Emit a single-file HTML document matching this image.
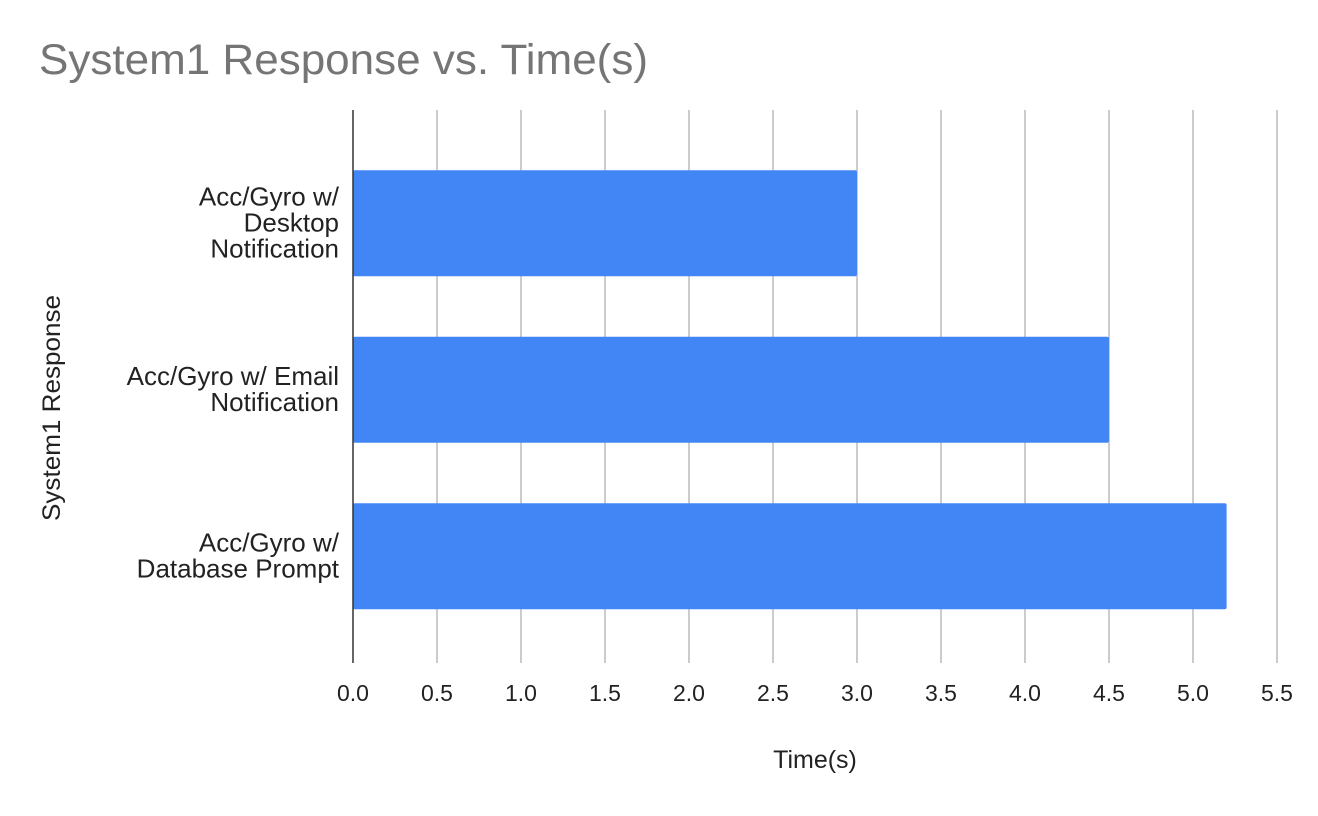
<!DOCTYPE html>
<html><head><meta charset="utf-8"><style>
body{margin:0;background:#fff;}
svg text{font-family:"Liberation Sans",Arial,sans-serif;}
</style></head><body>
<svg id="chart" width="1318" height="811" xmlns="http://www.w3.org/2000/svg">
<rect width="1318" height="811" fill="#fff"/>
<text x="39" y="74" font-size="43" fill="#757575" textLength="609" lengthAdjust="spacingAndGlyphs">System1 Response vs. Time(s)</text>
<g id="grid"></g><g id="bars"></g><g id="ylabels"></g><g id="xticks"></g>
<line x1="353" y1="110" x2="353" y2="663" stroke="#333" stroke-width="1.5"/>
<text x="815" y="768" font-size="25" text-anchor="middle" fill="#222">Time(s)</text>
<text transform="translate(60,408) rotate(-90)" font-size="25" text-anchor="middle" fill="#222" textLength="226" lengthAdjust="spacingAndGlyphs">System1 Response</text>
</svg>
<script>
const categories=[["Acc/Gyro w/","Desktop","Notification"],["Acc/Gyro w/ Email","Notification"],["Acc/Gyro w/","Database Prompt"]];
const values=[3.0,4.5,5.2];
const ticks=[0,0.5,1,1.5,2,2.5,3,3.5,4,4.5,5,5.5];
const NS="http://www.w3.org/2000/svg";
const x0=353,x1=1277,xmax=5.5,bandTop=140,bandH=166.5,barH=106;
const X=v=>x0+(v/xmax)*(x1-x0);
const Y=i=>bandTop+i*bandH+bandH/2;
function mk(t,a,p){const e=document.createElementNS(NS,t);for(const k in a)e.setAttribute(k,a[k]);p.appendChild(e);return e;}
const grid=document.getElementById('grid'),xt=document.getElementById('xticks');
ticks.forEach(t=>{
 if(t>0){const l=mk('line',{x1:X(t),x2:X(t),y1:110,y2:663,stroke:'#ccc','stroke-width':2},grid);
 
 }
 const tx=mk('text',{x:X(t),y:701,'font-size':23,'text-anchor':'middle',fill:'#222'},xt);
 tx.textContent=t.toFixed(1);
 
 
});
const bars=document.getElementById('bars'),yl=document.getElementById('ylabels');
values.forEach((v,i)=>{
 const r=mk('rect',{x:x0,y:Y(i)-barH/2,width:X(v)-x0,height:barH,fill:'#4285f4',rx:2},bars);
 
 
 const lines=categories[i],lh=26,start=Y(i)-(lines.length-1)*lh/2+8;
 const t=mk('text',{'font-size':26,'text-anchor':'end',fill:'#222'},yl);
 
 
 lines.forEach((s,j)=>{const ts=mk('tspan',{x:339,y:start+j*lh},t);ts.textContent=s;});
});
</script>
</body></html>
